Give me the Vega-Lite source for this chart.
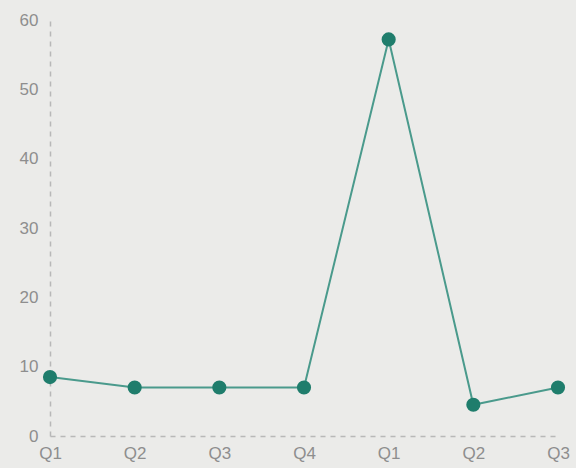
{
  "$schema": "https://vega.github.io/schema/vega-lite/v6.json",
  "width": 508,
  "height": 416,
  "autosize": {"type": "none"},
  "padding": {"left": 50, "top": 20, "right": 18, "bottom": 32},
  "background": "#ebebe9",
  "config": {"view": {"stroke": null}},
  "data": {"values": [
    {"i": 0, "q": "Q1", "v": 8.5},
    {"i": 1, "q": "Q2", "v": 7},
    {"i": 2, "q": "Q3", "v": 7},
    {"i": 3, "q": "Q4", "v": 7},
    {"i": 4, "q": "Q1", "v": 57.2},
    {"i": 5, "q": "Q2", "v": 4.5},
    {"i": 6, "q": "Q3", "v": 7}
  ]},
  "encoding": {
    "x": {"field": "i", "type": "ordinal", "scale": {"type": "point", "padding": 0},
      "axis": {"title": null, "labelAngle": 0, "ticks": false, "labelPadding": 9,
        "labelExpr": "['Q1','Q2','Q3','Q4','Q1','Q2','Q3'][datum.value]",
        "labelFont": "Liberation Sans", "labelFontSize": 17, "labelColor": "#8e8e8e",
        "domainColor": "#b8b8b8", "domainDash": [5, 5], "domainWidth": 1.5, "grid": false}},
    "y": {"field": "v", "type": "quantitative", "scale": {"domain": [0, 60]},
      "axis": {"title": null, "values": [0, 10, 20, 30, 40, 50, 60], "ticks": false, "labelPadding": 12,
        "labelFont": "Liberation Sans", "labelFontSize": 17, "labelColor": "#8e8e8e",
        "domainColor": "#b8b8b8", "domainDash": [5, 5], "domainWidth": 1.5, "grid": false}}
  },
  "layer": [
    {"mark": {"type": "line", "color": "#4a9a8c", "strokeWidth": 2}},
    {"mark": {"type": "point", "filled": true, "opacity": 1, "color": "#1f7d6c", "size": 200}}
  ]
}
